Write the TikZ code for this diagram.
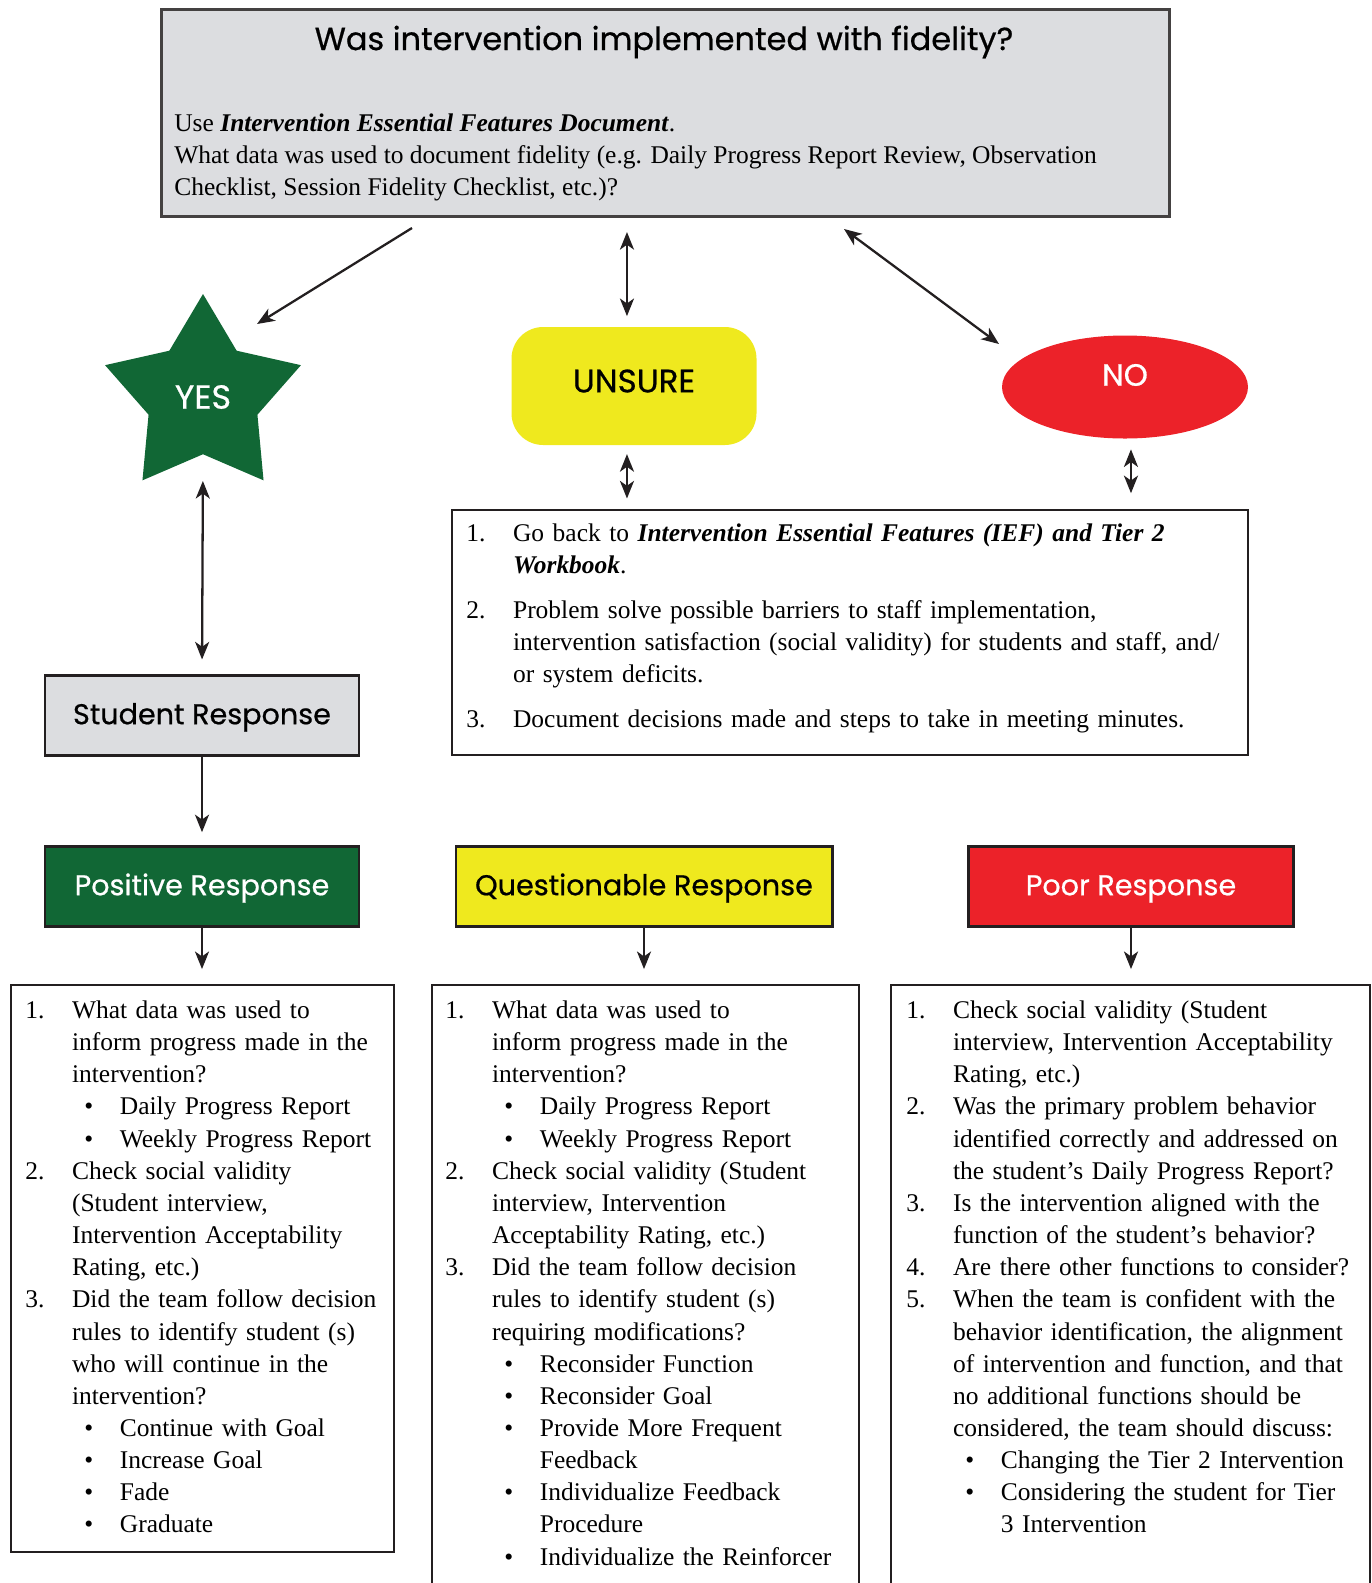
\documentclass[tikz,border=0pt]{standalone}
\usepackage{fontspec}
\setmainfont{Liberation Serif}
\newfontfamily\headfont{Poppins}[FakeBold=0.6]
\usepackage{enumitem}
\usetikzlibrary{arrows.meta,shapes.geometric,positioning}

\definecolor{fidgrey}{RGB}{220,221,224}
\definecolor{yesgreen}{RGB}{17,103,53}
\definecolor{unsureyellow}{RGB}{239,233,30}
\definecolor{nored}{RGB}{236,34,41}
\definecolor{ink}{RGB}{35,31,32}

\newlength\pxu
\setlength\pxu{0.02cm}
\newcommand\bodysize{\fontsize{14.5}{18.3}\selectfont}
\newcommand\headsize[1]{\headfont\fontsize{#1}{1.2\dimexpr#1pt\relax}\selectfont}

\setlist[enumerate]{nosep,label=\arabic*.,leftmargin=26.6pt,labelindent=0pt,labelwidth=26.6pt,labelsep=0pt,align=left}
\setlist[itemize]{nosep,label=\textbullet,leftmargin=27.2pt,labelindent=7pt,labelwidth=20.2pt,labelsep=0pt,align=left}

\tikzset{
  greybox/.style={draw=ink!85, line width=1.7pt, fill=fidgrey},
  headbox/.style={draw=ink, line width=1.7pt, minimum width=314\pxu, minimum height=80\pxu,
    font=\headsize{16.3}, text height=14pt, text depth=3.5pt},
  listbox/.style={draw=ink, line width=1.4pt, anchor=north west, inner sep=0pt},
  listtext/.style={anchor=north west, inner sep=0pt, align=left, font=\bodysize},
  arr/.style={draw=ink, line width=1.3pt, -{Stealth[length=10pt,width=8pt,inset=2.8pt]}},
  dbl/.style={draw=ink, line width=1.3pt, {Stealth[length=10pt,width=8pt,inset=2.8pt]}-{Stealth[length=10pt,width=8pt,inset=2.8pt]}},
}

\begin{document}
\begin{tikzpicture}[x=0.02cm,y=-0.02cm]
\useasboundingbox (0,0) rectangle (1372,1583);

% fidelity question
\node[greybox, anchor=north west, minimum width=1008\pxu, minimum height=207\pxu] (fid) at (160,8) {};
\node[font=\headsize{18.2}] (fidtitle) at (664,42) {Was intervention implemented with fidelity?};
\node[listtext] (fidtext) at (174,113) {Use \textbf{\textit{Intervention Essential Features Document}}.\\
What data was used to document fidelity (e.g. Daily Progress Report Review, Observation\\
Checklist, Session Fidelity Checklist, etc.)?};

% three answers
\node[shape=star, star points=5, star point ratio=1.8, minimum size=206\pxu, inner sep=0pt,
      fill=yesgreen, text=white, font=\headsize{19}] (yes) at (203,397) {YES};
\node[fill=unsureyellow, rounded corners=18pt, minimum width=245\pxu, minimum height=118\pxu,
      font=\headsize{18.5}, text depth=5.8pt] (unsure) at (634,386) {UNSURE};
\node[shape=ellipse, fill=nored, text=white, minimum width=246\pxu, minimum height=103\pxu,
      inner sep=0pt, font=\headsize{17.5}, text depth=13.8pt] (no) at (1125,387) {NO};

\coordinate (fidL) at (412,228);
\coordinate (yesTip) at (257,324);
\coordinate (fidR) at (844,229);
\coordinate (noTip) at (999,344);
\draw[arr] (fidL) -- (yesTip);
\draw[dbl, shorten <=8pt, shorten >=6pt] ([xshift=-4pt]fid.south -| unsure.north) -- ([xshift=-4pt]unsure.north);
\draw[dbl] (fidR) -- (noTip);

% what to do when unsure / no
\node[listbox, fill=white, minimum width=796\pxu, minimum height=245\pxu] (ief) at (451,509) {};
\node[listtext, text width=776\pxu] (ieftext) at (466,509) {%
\begin{enumerate}[itemsep=7.2pt]
\item Go back to \textbf{\textit{Intervention Essential Features (IEF) and Tier 2}}\newline
\textbf{\textit{Workbook}}.
\item Problem solve possible barriers to staff implementation,\newline
intervention satisfaction (social validity) for students and staff, and/\newline
or system deficits.
\item Document decisions made and steps to take in meeting minutes.
\end{enumerate}};

\draw[dbl, shorten <=5pt, shorten >=6pt] ([xshift=-4pt]unsure.south) -- ([xshift=-4pt]unsure.south |- ief.north);
\draw[dbl, shorten <=6pt, shorten >=9pt] ([xshift=3.4pt]no.south) -- ([xshift=3.4pt]no.south |- ief.north);

% student response
\node[headbox, fill=fidgrey] (stud) at (202,715) {Student Response};
\draw[dbl, shorten <=15pt, shorten >=8pt] (yes.south) -- (stud.north);

\node[headbox, fill=yesgreen, text=white] (pos) at (202,886) {Positive Response};
\node[headbox, fill=unsureyellow, minimum width=376\pxu] (ques) at (644,886) {Questionable Response};
\node[headbox, fill=nored, text=white, minimum width=325\pxu] (poor) at (1131,886) {Poor Response};
\draw[arr, shorten >=7pt] (stud) -- (pos);

% follow-up lists
\node[listbox, minimum width=383\pxu, minimum height=567\pxu] (poslist) at (10,984) {};
\node[listbox, minimum width=427\pxu, minimum height=640\pxu] (queslist) at (431,984) {};
\node[listbox, minimum width=479\pxu, minimum height=640\pxu] (poorlist) at (890,984) {};

\draw[arr, shorten >=8.5pt] (pos) -- (pos |- poslist.north);
\draw[arr, shorten >=8.5pt] (ques) -- (ques |- queslist.north);
\draw[arr, shorten >=8.5pt] (poor) -- (poor |- poorlist.north);

\node[listtext, text width=366\pxu] (postext) at (25,986) {%
\begin{enumerate}
\item What data was used to\newline inform progress made in the\newline intervention?
  \begin{itemize}
  \item Daily Progress Report
  \item Weekly Progress Report
  \end{itemize}
\item Check social validity\newline (Student interview,\newline Intervention Acceptability\newline Rating, etc.)
\item Did the team follow decision\newline rules to identify student (s)\newline who will continue in the\newline intervention?
  \begin{itemize}
  \item Continue with Goal
  \item Increase Goal
  \item Fade
  \item Graduate
  \end{itemize}
\end{enumerate}};

\node[listtext, text width=409\pxu] (questext) at (445,986) {%
\begin{enumerate}
\item What data was used to\newline inform progress made in the\newline intervention?
  \begin{itemize}
  \item Daily Progress Report
  \item Weekly Progress Report
  \end{itemize}
\item Check social validity (Student\newline interview, Intervention\newline Acceptability Rating, etc.)
\item Did the team follow decision\newline rules to identify student (s)\newline requiring modifications?
  \begin{itemize}
  \item Reconsider Function
  \item Reconsider Goal
  \item Provide More Frequent\newline Feedback
  \item Individualize Feedback\newline Procedure
  \item Individualize the Reinforcer
  \end{itemize}
\end{enumerate}};

\node[listtext, text width=463\pxu] (poortext) at (906,986) {%
\begin{enumerate}
\item Check social validity (Student\newline interview, Intervention Acceptability\newline Rating, etc.)
\item Was the primary problem behavior\newline identified correctly and addressed on\newline the student’s Daily Progress Report?
\item Is the intervention aligned with the\newline function of the student’s behavior?
\item Are there other functions to consider?
\item When the team is confident with the\newline behavior identification, the alignment\newline of intervention and function, and that\newline no additional functions should be\newline considered, the team should discuss:
  \begin{itemize}
  \item Changing the Tier 2 Intervention
  \item Considering the student for Tier\newline 3 Intervention
  \end{itemize}
\end{enumerate}};
\end{tikzpicture}
\end{document}
